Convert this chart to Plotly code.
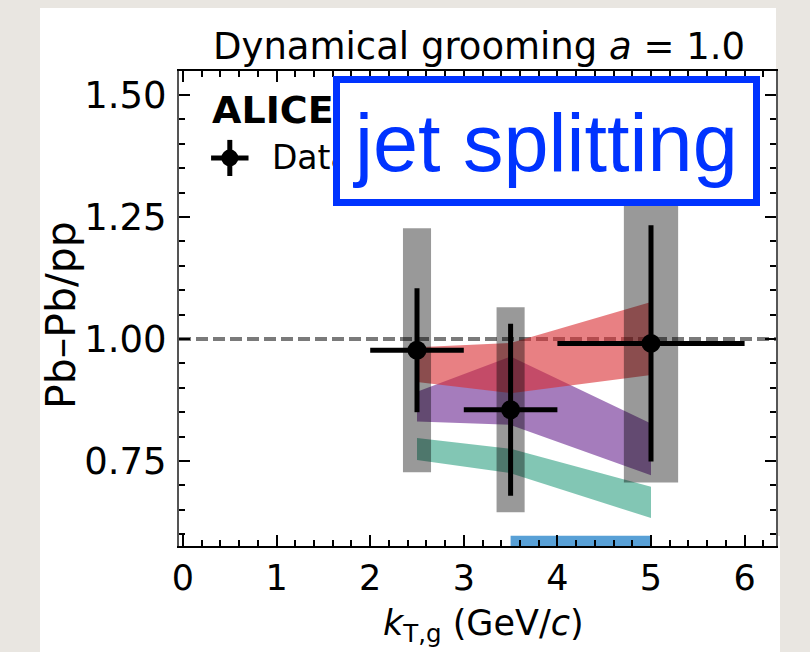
import plotly.graph_objects as go

# ---------------- data ----------------
x_pts = [2.5, 3.5, 5.0]
y_pts = [0.977, 0.855, 0.991]
x_err = [0.5, 0.5, 1.0]
y_stat = [0.127, 0.176, 0.242]
y_sys = [0.250, 0.210, 0.285]
sys_half_width = [0.15, 0.15, 0.29]

band_x = [2.5, 3.5, 5.0]
red_lo = [0.912, 0.889, 0.926]
red_hi = [0.983, 0.992, 1.076]
purple_lo = [0.831, 0.824, 0.721]
purple_hi = [0.892, 0.964, 0.827]
teal_lo = [0.752, 0.725, 0.633]
teal_hi = [0.797, 0.775, 0.697]
blue_x = [3.5, 5.0]
blue_lo = [0.50, 0.50]
blue_hi = [0.597, 0.597]

x_ticks = [0, 1, 2, 3, 4, 5, 6]
y_ticks = [0.75, 1.00, 1.25, 1.50]
y_tick_text = ["0.75", "1.00", "1.25", "1.50"]

# ---------------- layout geometry (pixels) ----------------
W, H = 810, 652
L, R, T, B = 179, 776, 71, 546


def px(x):
    return (x - L) / (R - L)


def py(y):
    return (B - y) / (B - T)


FONT = "DejaVu Sans"

fig = go.Figure()


def band(xs, lo, hi, color):
    return go.Scatter(
        x=list(xs) + list(xs)[::-1],
        y=list(hi) + list(lo)[::-1],
        fill="toself", fillcolor=color, mode="lines",
        line=dict(width=0), hoverinfo="skip", showlegend=False)


fig.add_trace(band(blue_x, blue_lo, blue_hi, "rgba(70,150,210,0.9)"))
fig.add_trace(band(band_x, teal_lo, teal_hi, "rgba(47,160,130,0.6)"))
fig.add_trace(band(band_x, purple_lo, purple_hi, "rgba(105,37,143,0.6)"))
fig.add_trace(band(band_x, red_lo, red_hi, "rgba(217,43,48,0.6)"))

# systematic boxes
for xc, yc, hw, s in zip(x_pts, y_pts, sys_half_width, y_sys):
    fig.add_trace(go.Scatter(
        x=[xc - hw, xc + hw, xc + hw, xc - hw, xc - hw],
        y=[yc - s, yc - s, yc + s, yc + s, yc - s],
        fill="toself", fillcolor="rgba(0,0,0,0.4)", mode="lines",
        line=dict(width=0), hoverinfo="skip", showlegend=False))

# data points
fig.add_trace(go.Scatter(
    x=x_pts, y=y_pts, mode="markers",
    marker=dict(color="black", size=19),
    error_x=dict(type="data", array=x_err, visible=True, thickness=5, width=0, color="black"),
    error_y=dict(type="data", array=y_stat, visible=True, thickness=5, width=0, color="black"),
    showlegend=False))

# in-plot legend texts (drawn as traces so the box can cover them)
LEG_X0 = 0.5
fig.add_trace(go.Scatter(
    x=[0.31], y=[1.463], mode="text", text=["<b>ALICE</b>"],
    textposition="middle right",
    textfont=dict(family=FONT, size=38, color="black"), showlegend=False))
fig.add_trace(go.Scatter(
    x=[0.95], y=[1.365], mode="text", text=["Data"],
    textposition="middle right",
    textfont=dict(family=FONT, size=33, color="black"), showlegend=False))
fig.add_trace(go.Scatter(
    x=[LEG_X0], y=[1.371], mode="markers",
    marker=dict(color="black", size=17),
    error_x=dict(type="data", array=[0.2], visible=True, thickness=5, width=0, color="black"),
    error_y=dict(type="data", array=[0.037], visible=True, thickness=5, width=0, color="black"),
    showlegend=False))

shapes = [
    dict(type="rect", xref="paper", yref="paper", x0=px(40), x1=px(776), y0=py(538), y1=py(8),
         fillcolor="white", line=dict(width=0), layer="below"),
    dict(type="rect", xref="paper", yref="paper", x0=px(40), x1=px(780), y0=py(652), y1=py(536),
         fillcolor="white", line=dict(width=0), layer="below"),
    dict(type="line", xref="paper", yref="y", x0=0, x1=1, y0=1.0, y1=1.0,
         line=dict(color="#7a7a7a", width=4, dash="12px,5px"), layer="below"),
    dict(type="rect", xref="paper", yref="paper", x0=px(336.5), x1=px(756.5),
         y0=py(202.5), y1=py(79.5), fillcolor="white",
         line=dict(color="#0033FF", width=7), layer="above"),
]

annotations = [
    dict(text="Dynamical grooming <i>a</i> = 1.0", x=px(479), y=py(46), xref="paper", yref="paper",
         showarrow=False, xanchor="center", yanchor="middle",
         font=dict(family=FONT, size=37, color="black")),
    dict(text="Pb–Pb/pp", x=px(61), y=py(315), xref="paper", yref="paper", textangle=-90,
         showarrow=False, xanchor="center", yanchor="middle",
         font=dict(family=FONT, size=41, color="black")),
    dict(text="<i>k</i><sub>T,g</sub> (GeV/<i>c</i>)", x=px(483), y=py(625), xref="paper", yref="paper",
         showarrow=False, xanchor="center", yanchor="middle",
         font=dict(family=FONT, size=35, color="black")),
    dict(text="jet splitting", x=px(545), y=py(143), xref="paper", yref="paper",
         showarrow=False, xanchor="center", yanchor="middle",
         font=dict(family="Liberation Sans", size=81, color="#0033FF")),
]

x_unit = 93.6
fig.update_layout(
    width=W, height=H,
    margin=dict(l=L, r=W - R, t=T, b=H - B, pad=0),
    paper_bgcolor="#E9E6E1", plot_bgcolor="white",
    shapes=shapes, annotations=annotations, showlegend=False,
    xaxis=dict(range=[-4 / x_unit, (R - 183) / x_unit], tickvals=x_ticks,
               ticks="inside", ticklen=11, tickwidth=2, tickcolor="black",
               showline=True, linecolor="black", linewidth=2, mirror="allticks",
               showgrid=False, zeroline=False,
               tickfont=dict(family=FONT, size=35, color="black"), ticklabelstandoff=0,
               minor=dict(dtick=0.2, ticks="inside", ticklen=6, tickwidth=1.5, tickcolor="black",
                          showgrid=False)),
    yaxis=dict(range=[1 - (B - 339) / 488, 1.5 + (95 - T) / 488], tickvals=y_ticks, ticktext=y_tick_text,
               ticks="inside", ticklen=11, tickwidth=2, tickcolor="black",
               showline=True, linecolor="#555", linewidth=2, mirror="allticks",
               showgrid=False, zeroline=False,
               tickfont=dict(family=FONT, size=37, color="black"), ticklabelstandoff=3,
               minor=dict(dtick=0.05, ticks="inside", ticklen=6, tickwidth=1.5, tickcolor="black",
                          showgrid=False)),
)

fig.write_html("out.html")
